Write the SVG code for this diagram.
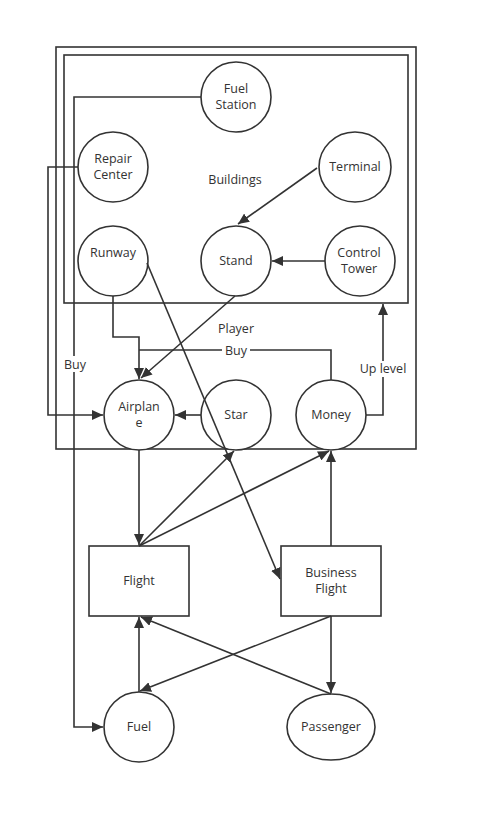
<svg xmlns="http://www.w3.org/2000/svg" width="478" height="824" viewBox="0 0 478 824">
<style>
.n{fill:#fff;stroke:#333;stroke-width:1.6}
.c{fill:none;stroke:#333;stroke-width:1.6}
.t{font-family:"Open Sans","Noto Sans",sans-serif;font-size:12.5px;fill:#333;text-anchor:middle}
.lb{fill:#fff}
</style>
<defs>
<marker id="a" markerWidth="12" markerHeight="10" refX="11" refY="5" orient="auto" markerUnits="userSpaceOnUse">
<path d="M0,0 L11,5 L0,10 Z" fill="#333"/>
</marker>
</defs>
<rect width="478" height="824" fill="#fff"/>
<g id="player">
<rect x="56" y="47" width="360" height="402" fill="none" stroke="#333" stroke-width="1.6"/>
<text class="t" x="236" y="333">Player</text>
</g>
<g id="buildings">
<rect x="64" y="55" width="344" height="248" fill="none" stroke="#333" stroke-width="1.6"/>
<text class="t" x="235" y="184">Buildings</text>
</g>
<g id="fuel-station"><ellipse class="n" cx="236" cy="97" rx="35" ry="35"/><text class="t" x="236" y="93">Fuel</text><text class="t" x="236" y="109">Station</text></g>
<g id="repair-center"><ellipse class="n" cx="113" cy="167" rx="35" ry="35"/><text class="t" x="113" y="163">Repair</text><text class="t" x="113" y="179">Center</text></g>
<g id="terminal"><ellipse class="n" cx="355" cy="167" rx="36" ry="35"/><text class="t" x="355" y="171">Terminal</text></g>
<g id="runway"><ellipse class="n" cx="113" cy="261" rx="35" ry="35"/><text class="t" x="113" y="257">Runway</text></g>
<g id="stand"><ellipse class="n" cx="236" cy="261" rx="35" ry="35"/><text class="t" x="236" y="265">Stand</text></g>
<g id="control-tower"><ellipse class="n" cx="360" cy="261" rx="35" ry="35"/><text class="t" x="359" y="257">Control</text><text class="t" x="359" y="273">Tower</text></g>
<g id="airplane"><ellipse class="n" cx="139" cy="415" rx="35" ry="35"/><text class="t" x="139" y="411">Airplan</text><text class="t" x="139" y="427">e</text></g>
<g id="star"><ellipse class="n" cx="236" cy="415" rx="35" ry="35"/><text class="t" x="236" y="419">Star</text></g>
<g id="money"><ellipse class="n" cx="331" cy="415" rx="35" ry="35"/><text class="t" x="331" y="419">Money</text></g>
<g id="flight"><rect class="n" x="89" y="546" width="100" height="70"/><text class="t" x="139" y="585">Flight</text></g>
<g id="business-flight"><rect class="n" x="281" y="546" width="100" height="70"/><text class="t" x="331" y="577">Business</text><text class="t" x="331" y="593">Flight</text></g>
<g id="fuel"><ellipse class="n" cx="139" cy="727" rx="35" ry="35"/><text class="t" x="139" y="731">Fuel</text></g>
<g id="passenger"><ellipse class="n" cx="331" cy="727" rx="44" ry="33"/><text class="t" x="331" y="731">Passenger</text></g>
<g id="connectors">
<path class="c" d="M201,97 H74 V727 H103" marker-end="url(#a)"/>
<path class="c" d="M78,167 H48 V415 H103" marker-end="url(#a)"/>
<path class="c" d="M317,168 L238,224" marker-end="url(#a)"/>
<path class="c" d="M325,261 L272,261" marker-end="url(#a)"/>
<path class="c" d="M113,296 V337 H139 V379" marker-end="url(#a)"/>
<path class="c" d="M147,263 L280,579" marker-end="url(#a)"/>
<path class="c" d="M235,296 L141,378" marker-end="url(#a)"/>
<path class="c" d="M331,380 V350 H139"/>
<path class="c" d="M366,415 H383 V304" marker-end="url(#a)"/>
<path class="c" d="M201,415 L175,415" marker-end="url(#a)"/>
<path class="c" d="M139,450 L139,545" marker-end="url(#a)"/>
<path class="c" d="M139,546 L234,451" marker-end="url(#a)"/>
<path class="c" d="M139,546 L329,451" marker-end="url(#a)"/>
<path class="c" d="M331,546 L331,451" marker-end="url(#a)"/>
<path class="c" d="M331,616 L140,691" marker-end="url(#a)"/>
<path class="c" d="M331,616 L331,693" marker-end="url(#a)"/>
<path class="c" d="M331,694 L141,617" marker-end="url(#a)"/>
<path class="c" d="M139,692 L139,617" marker-end="url(#a)"/>
<rect class="lb" x="62" y="356" width="26" height="16"/>
<text class="t" x="75" y="369">Buy</text>
<rect class="lb" x="222" y="343" width="28" height="15"/>
<text class="t" x="236" y="355">Buy</text>
<rect class="lb" x="355" y="361" width="56" height="16"/>
<text class="t" x="383" y="373">Up level</text>
</g>
</svg>
